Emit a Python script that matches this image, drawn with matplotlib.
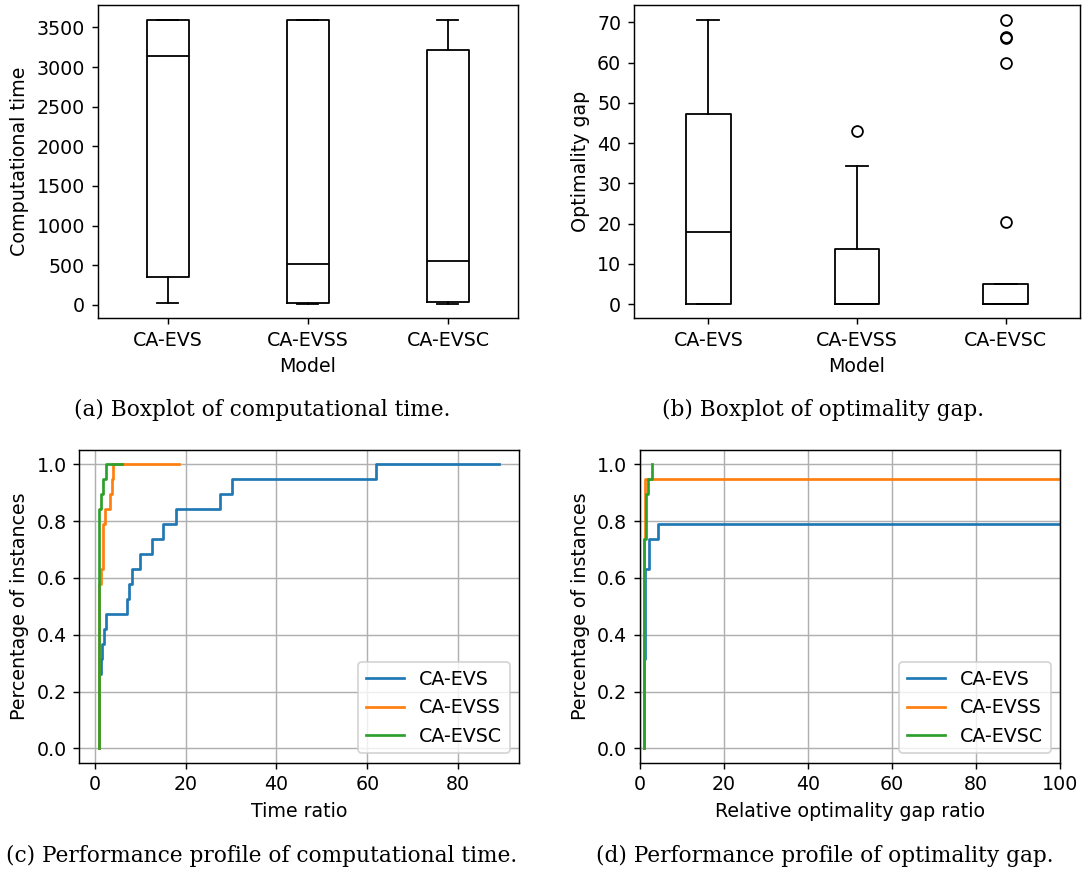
import numpy as np
import matplotlib
matplotlib.use('Agg')
import matplotlib.pyplot as plt

# Models
models = ['CA-EVS', 'CA-EVSS', 'CA-EVSC']
n_instances = 19

# Boxplot stats, computational time (s)
time_whislo = [25, 9, 9]
time_q1 = [345, 21, 29]
time_med = [3137, 515, 548]
time_q3 = [3600, 3600, 3213]
time_whishi = [3600, 3600, 3600]
time_fliers = [[], [], []]

# Boxplot stats, optimality gap (%)
gap_whislo = [0, 0, 0]
gap_q1 = [0, 0, 0]
gap_med = [17.9, 0, 0]
gap_q3 = [47.3, 13.8, 5.1]
gap_whishi = [70.7, 34.4, 5.1]
gap_fliers = [[], [43.1], [20.3, 60.0, 66.0, 66.3, 70.7]]

# Performance profile, time ratio (tau, solved count)
time_tau_evs = [1, 1, 1.3, 1.7, 2.06, 2.57, 7.2, 7.57, 8.2, 9.9, 12.6, 15.1, 17.9, 27.6, 30.2, 62, 89]
time_cnt_evs = [0, 5, 6, 7, 8, 9, 10, 11, 12, 13, 14, 15, 16, 17, 18, 19, 19]
time_tau_evss = [1, 1, 1.45, 1.85, 2.2, 3.3, 3.7, 4.0, 18.5]
time_cnt_evss = [0, 11, 12, 15, 16, 17, 18, 19, 19]
time_tau_evsc = [1, 1, 1.3, 1.8, 2.4, 5.9]
time_cnt_evsc = [0, 16, 17, 18, 19, 19]

# Performance profile, relative optimality gap ratio
gap_tau_evs = [1, 1, 1.2, 2.14, 4.2, 100]
gap_cnt_evs = [0, 6, 12, 14, 15, 15]
gap_tau_evss = [1, 1, 1.2, 100]
gap_cnt_evss = [0, 14, 18, 18]
gap_tau_evsc = [1, 1, 1.35, 1.85, 2.8, 2.95]
gap_cnt_evsc = [0, 14, 17, 18, 19, 19]

W, H = 1084, 870
dpi = 130
plt.rcParams['font.size'] = 10.5
fig = plt.figure(figsize=(W / dpi, H / dpi), dpi=dpi)


def box_axes(left, top, right, bottom):
    return fig.add_axes([left / W, 1 - bottom / H, (right - left) / W, (bottom - top) / H])


def make_stats(lo, q1, med, q3, hi, fl):
    return [dict(label=m, whislo=lo[i], q1=q1[i], med=med[i], q3=q3[i],
                 whishi=hi[i], fliers=fl[i]) for i, m in enumerate(models)]


black = dict(color='black')
ax_a = box_axes(97.7, 5.3, 518, 318.3)
ax_a.bxp(make_stats(time_whislo, time_q1, time_med, time_q3, time_whishi, time_fliers),
         boxprops=black, whiskerprops=black, capprops=black, medianprops=black,
         flierprops=dict(markeredgecolor='black'))
ax_a.set_xlabel('Model')
ax_a.set_ylabel('Computational time')

ax_b = box_axes(634, 5.3, 1080, 318.3)
ax_b.bxp(make_stats(gap_whislo, gap_q1, gap_med, gap_q3, gap_whishi, gap_fliers),
         boxprops=black, whiskerprops=black, capprops=black, medianprops=black,
         flierprops=dict(markeredgecolor='black'))
ax_b.set_xlabel('Model')
ax_b.set_ylabel('Optimality gap')

# Performance profiles
ax_c = box_axes(79.3, 450, 519, 762.7)
ax_c.step(time_tau_evs, np.array(time_cnt_evs) / n_instances, where='post', label='CA-EVS')
ax_c.step(time_tau_evss, np.array(time_cnt_evss) / n_instances, where='post', label='CA-EVSS')
ax_c.step(time_tau_evsc, np.array(time_cnt_evsc) / n_instances, where='post', label='CA-EVSC')
ax_c.set_xlabel('Time ratio')
ax_c.set_ylabel('Percentage of instances')
ax_c.grid(True)
ax_c.legend(loc='lower right')

ax_d = box_axes(640, 450, 1060.3, 762.7)
ax_d.step(gap_tau_evs, np.array(gap_cnt_evs) / n_instances, where='post', label='CA-EVS')
ax_d.step(gap_tau_evss, np.array(gap_cnt_evss) / n_instances, where='post', label='CA-EVSS')
ax_d.step(gap_tau_evsc, np.array(gap_cnt_evsc) / n_instances, where='post', label='CA-EVSC')
ax_d.set_xlim(0, 100)
ax_d.set_xlabel('Relative optimality gap ratio')
ax_d.set_ylabel('Percentage of instances')
ax_d.grid(True)
ax_d.legend(loc='lower right')

cap = dict(family='DejaVu Serif', fontsize=12, ha='center', va='center')
fig.text(262 / W, 1 - 410 / H, '(a) Boxplot of computational time.', **cap)
fig.text(823 / W, 1 - 410 / H, '(b) Boxplot of optimality gap.', **cap)
fig.text(262 / W, 1 - 856 / H, '(c) Performance profile of computational time.', **cap)
fig.text(825 / W, 1 - 856 / H, '(d) Performance profile of optimality gap.', **cap)

fig.savefig('out.png', dpi=dpi)
